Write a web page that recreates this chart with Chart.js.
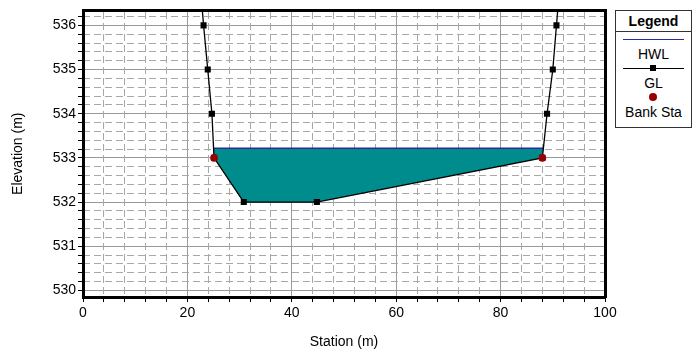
<!DOCTYPE html>
<html>
<head>
<meta charset="utf-8">
<script src="https://cdn.jsdelivr.net/npm/chart.js@4.4.0/dist/chart.umd.min.js"></script>
<style>
  html, body { margin: 0; padding: 0; background: #fff; }
  #wrap { position: relative; width: 694px; height: 356px; }
  #legend {
    position: absolute; left: 615px; top: 10px; width: 75px; height: 116px;
    border: 1px solid #333; background: #fff;
    font-family: Arial, "Liberation Sans", sans-serif; font-size: 14px; color: #000;
    text-align: center;
  }
  #legend .hd { font-weight: bold; height: 20px; line-height: 20px; border-bottom: 1px solid #333; }
  #legend .sw { position: relative; height: 13px; }
  #legend .ln { position: absolute; left: 7px; right: 7px; top: 6px; height: 0; }
  #legend .txt { height: 16px; line-height: 16px; }
</style>
</head>
<body>
<div id="wrap">
  <canvas id="myChart" width="694" height="356"></canvas>
  <div id="legend">
    <div class="hd">Legend</div>
    <div class="sw" style="margin-top:1px"><div class="ln" style="border-top:1.5px solid #2a2a9a"></div></div>
    <div class="txt">HWL</div>
    <div class="sw"><div class="ln" style="border-top:1.5px solid #000"></div>
      <div style="position:absolute;left:34px;top:3px;width:6px;height:6px;background:#000"></div></div>
    <div class="txt">GL</div>
    <div class="sw"><div style="position:absolute;left:33px;top:2px;width:8px;height:8px;border-radius:50%;background:#990000"></div></div>
    <div class="txt">Bank Sta</div>
  </div>
</div>
<script>
// ground line, station (m) / elevation (m)
const glStation = [22.4, 23.1, 23.9, 24.7, 25.1, 30.8, 44.8, 88.0, 88.9, 90.0, 90.7, 91.4];
const glElev    = [537, 536, 535, 534, 533, 532, 532, 533, 534, 535, 536, 537];

// bank stations
const bankStation = [25.1, 88.0];
const bankElev    = [533, 533];

// water surface
const wsElev  = 533.22;
const wsLeft  = 25.0;
const wsRight = 88.2;

// axis ticks
const xLabels = [0, 20, 40, 60, 80, 100];
const yLabels = [530, 531, 532, 533, 534, 535, 536];
const xMin = 0, xMax = 100;
const yMin = 529.85, yMax = 536.34;

const FONT = 'Arial, "Liberation Sans", sans-serif';

const xSteps = [];
for (let v = 0; v <= 100; v += 4) xSteps.push(v);
const ySteps = [];
for (let i = 0; i <= 31; i++) ySteps.push(Math.round((530 + i * 0.2) * 10) / 10);

const isMajorX = v => xLabels.includes(v);
const isMajorY = v => yLabels.includes(Math.round(v * 10) / 10);

const ground = glStation.map((s, i) => ({ x: s, y: glElev[i] }));
const banks = bankStation.map((s, i) => ({ x: s, y: bankElev[i] }));

// water polygon: surface left->right, then ground back from right bank to left bank
const inChannel = ground.filter(p => p.x >= bankStation[0] && p.x <= bankStation[1]).reverse();
const waterShape = [{ x: wsLeft, y: wsElev }, { x: wsRight, y: wsElev }, ...inChannel, { x: wsLeft, y: wsElev }];

const ctx = document.getElementById('myChart').getContext('2d');
const chart = new Chart(ctx, {
    type: 'scatter',
    data: {
        datasets: [
            {
                label: 'Bank Sta',
                data: banks,
                pointStyle: 'circle',
                pointRadius: 3.8,
                backgroundColor: '#990000',
                borderColor: '#990000',
                borderWidth: 0,
                showLine: false,
                order: 0
            },
            {
                label: 'GL',
                data: ground,
                showLine: true,
                borderColor: '#000',
                borderWidth: 1.3,
                pointStyle: 'rect',
                pointRadius: 4.3,
                backgroundColor: '#000',
                pointBorderWidth: 0,
                order: 1
            },
            {
                label: 'HWL',
                data: [{ x: wsLeft, y: wsElev }, { x: wsRight, y: wsElev }],
                showLine: true,
                borderColor: '#2a2a9a',
                borderWidth: 1.5,
                pointRadius: 0,
                order: 2
            },
            {
                label: 'water',
                data: waterShape,
                showLine: true,
                borderWidth: 0,
                borderColor: 'rgba(0,0,0,0)',
                backgroundColor: 'rgb(0,140,140)',
                fill: 'shape',
                pointRadius: 0,
                order: 3
            }
        ]
    },
    options: {
        responsive: false,
        animation: false,
        layout: { padding: { top: 10, right: 89, left: 0, bottom: 0 } },
        plugins: { legend: { display: false }, tooltip: { enabled: false } },
        scales: {
            x: {
                type: 'linear', position: 'bottom', min: xMin, max: xMax,
                afterBuildTicks: s => { s.ticks = xSteps.map(v => ({ value: v })); },
                afterFit: s => { s.height = 59; },
                ticks: {
                    autoSkip: false, maxRotation: 0, padding: 3, color: '#000',
                    font: { family: FONT, size: 14 },
                    callback: v => isMajorX(v) ? String(v) : ''
                },
                grid: {
                    color: c => (c.tick && isMajorX(c.tick.value)) ? '#999' : 'rgba(0,0,0,0)',
                    tickColor: '#000', tickLength: 5, lineWidth: 1
                },
                border: { display: true, color: '#000', width: 3 },
                title: { display: true, text: 'Station (m)', color: '#000', font: { family: FONT, size: 14 }, padding: { top: 0, bottom: 5 } }
            },
            y: {
                type: 'linear', position: 'left', min: yMin, max: yMax,
                afterBuildTicks: s => { s.ticks = ySteps.map(v => ({ value: v })); },
                afterFit: s => { s.width = 83; },
                ticks: {
                    autoSkip: false, padding: 2, color: '#000',
                    font: { family: FONT, size: 14 },
                    callback: v => isMajorY(v) ? String(Math.round(v)) : ''
                },
                grid: {
                    color: c => (c.tick && isMajorY(c.tick.value)) ? '#999' : 'rgba(0,0,0,0)',
                    tickColor: '#000', tickLength: 5, lineWidth: 1
                },
                border: { display: true, color: '#000', width: 3 },
                title: { display: true, text: 'Elevation (m)', color: '#000', font: { family: FONT, size: 14 }, padding: { top: 10, bottom: 0 } }
            },
            // minor dashed grid + top / right frame
            xm: {
                type: 'linear', position: 'top', min: xMin, max: xMax,
                afterBuildTicks: s => { s.ticks = xSteps.filter(v => !isMajorX(v)).map(v => ({ value: v })); },
                afterFit: s => { s.height = 0; },
                ticks: { display: false },
                grid: { color: '#a8a8a8', drawTicks: false, lineWidth: 1 },
                border: { display: true, color: '#000', width: 3, dash: [7, 4] }
            },
            ym: {
                type: 'linear', position: 'right', min: yMin, max: yMax,
                afterBuildTicks: s => { s.ticks = ySteps.filter(v => !isMajorY(v)).map(v => ({ value: v })); },
                afterFit: s => { s.width = 0; },
                ticks: { display: false },
                grid: { color: '#a8a8a8', drawTicks: false, lineWidth: 1 },
                border: { display: true, color: '#000', width: 3, dash: [7, 4] }
            }
        }
    }
});
</script>
</body>
</html>
